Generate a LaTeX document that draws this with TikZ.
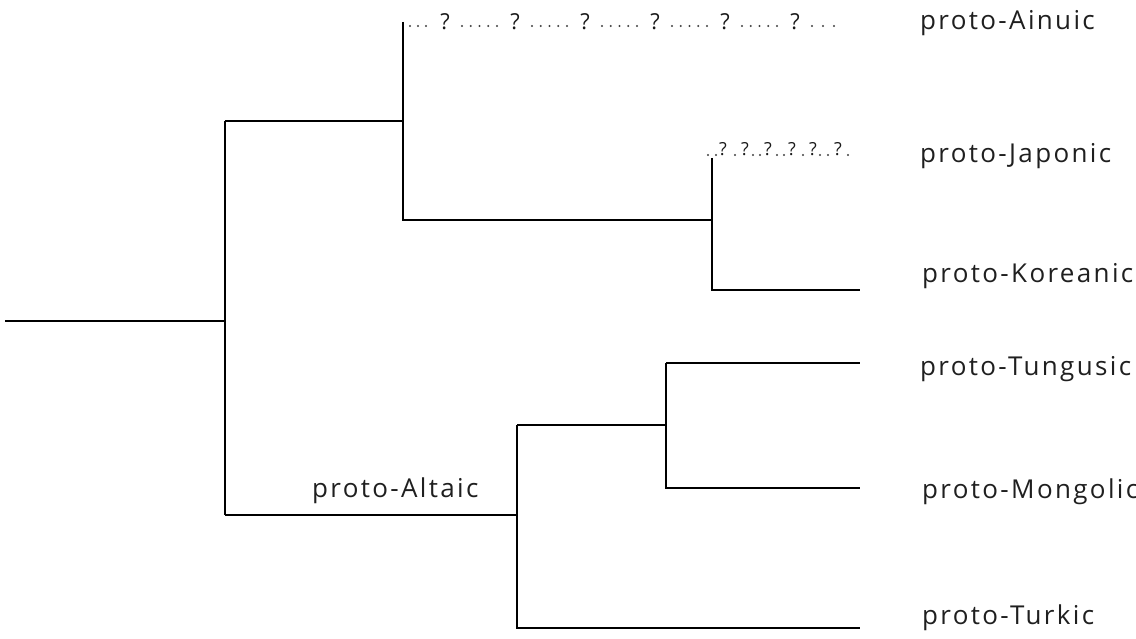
\documentclass[tikz,border=0pt]{standalone}
\usepackage{fontspec}
\setmainfont{Open Sans}
\newfontfamily\labelfont[LetterSpace=9]{Open Sans}
\begin{document}
\begin{tikzpicture}[x=1pt,y=-1pt,
  branch/.style={line width=1.6pt,black},
  leaf/.style={anchor=base west,font=\labelfont\fontsize{26}{28}\selectfont,text=black!88,inner sep=0pt},
  qmark/.style={anchor=base,font=\fontsize{#1}{#1}\selectfont,text=black!90,inner sep=0pt},
  qmark/.default=22,
  dot/.style={circle,fill=black!75,inner sep=0pt,minimum size=2.3pt}]
\useasboundingbox (0,0) rectangle (1136,639);
% junctions of the tree
\coordinate (root) at (5,321);
\coordinate (top) at (225,121);
\coordinate (bot) at (225,515);
\coordinate (nA) at (403,121);
\coordinate (ain) at (403,22);
\coordinate (nJK) at (403,220);
\coordinate (jk) at (712,220);
\coordinate (jap) at (712,158);
\coordinate (kor) at (712,290);
\coordinate (korE) at (860,290);
\coordinate (alt) at (517,515);
\coordinate (altT) at (517,425);
\coordinate (altB) at (517,628);
\coordinate (turE) at (860,628);
\coordinate (tm) at (666,425);
\coordinate (tmT) at (666,363);
\coordinate (tmB) at (666,488);
\coordinate (tunE) at (860,363);
\coordinate (monE) at (860,488);
% branches
\draw[branch] (root) -- (225,321);
\draw[branch] (top) -- (bot);
\draw[branch] (top) -- (nA);
\draw[branch] (ain) -- (nJK) -- (jk);
\draw[branch] (jap) -- (kor) -- (korE);
\draw[branch] (bot) -- (alt);
\draw[branch] (altT) -- (altB) -- (turE);
\draw[branch] (altT) -- (tm);
\draw[branch] (tmT) -- (tmB) -- (monE);
\draw[branch] (tmT) -- (tunE);
% uncertain Ainuic lineage: dots and question marks
\foreach \x in {410,418,426,812,823,834}
  \node[dot] at (\x,26) {};
\foreach \k in {0,...,5} {
  \node[qmark] (qa\k) at (445+70*\k,30) {?};
}
\foreach \k in {0,...,4} {
  \foreach \i in {0,...,4}
    \node[dot] at (462+70*\k+8.75*\i,26) {};
}
% uncertain Japonic lineage
\foreach \x in {708,716,735,753,760,777,784,803,820,828,848}
  \node[dot] at (\x,155) {};
\foreach \x [count=\n] in {723,745,768,792,813,838}
  \node[qmark=18] (qj\n) at (\x,156) {?};
% labels
\node[leaf] (lAin) at (920,30) {proto-Ainuic};
\node[leaf] (lJap) at (920,163) {proto-Japonic};
\node[leaf] (lKor) at (922,283) {proto-Koreanic};
\node[leaf] (lTun) at (920,375) {proto-Tungusic};
\node[leaf] (lMon) at (922,498) {proto-Mongolic};
\node[leaf] (lTur) at (922,624) {proto-Turkic};
\node[leaf] (lAlt) at (312,497) {proto-Altaic};
\end{tikzpicture}
\end{document}
